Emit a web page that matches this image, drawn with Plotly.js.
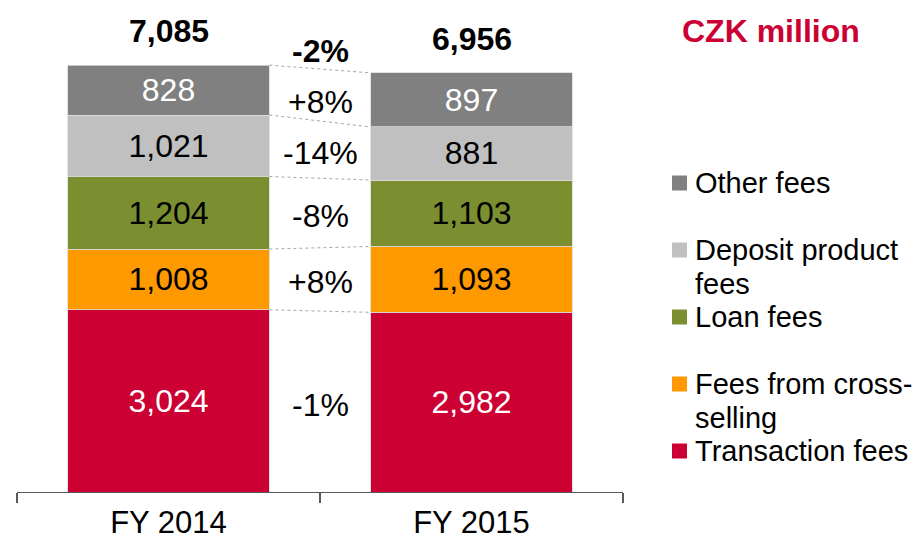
<!DOCTYPE html>
<html>
<head>
<meta charset="utf-8">
<script src="https://cdn.plot.ly/plotly-3.0.1.min.js"></script>
<style>html,body{margin:0;padding:0;background:#fff;}#chart{width:917px;height:544px;}</style>
</head>
<body>
<div id="chart"></div>
<script>
// ---- data ----
const categories = ["FY 2014", "FY 2015"];
const transactionFees = [3024, 2982];
const crossSellingFees = [1008, 1093];
const loanFees = [1204, 1103];
const depositFees = [1021, 881];
const otherFees = [828, 897];
const seriesNames = ["Transaction fees", "Fees from cross-selling", "Loan fees", "Deposit product fees", "Other fees"];
const legendLabels = ["Other fees", "Deposit product<br>fees", "Loan fees", "Fees from cross-<br>selling", "Transaction fees"];
const unitLabel = "CZK million";

// ---- styling ----
const colors = ["#CC0033", "#FF9900", "#7B8F30", "#C0C0C0", "#808080"];
const textColors = ["#ffffff", "#000000", "#000000", "#000000", "#ffffff"];
const FONT = "Liberation Sans, Arial, Helvetica, sans-serif";
const seriesValues = [transactionFees, crossSellingFees, loanFees, depositFees, otherFees];
const barWidth = 0.666;

// plot area geometry (pixels) for legend placement
const L = 17, R = 623, T = 10, B = 492;
const px = x => (x - L) / (R - L);
const py = y => (B - y) / (B - T);

const traces = seriesValues.map((vals, i) => ({
  type: "bar",
  name: seriesNames[i],
  x: categories,
  y: vals,
  marker: {color: colors[i], line: {color: "#d9d9d9", width: 0.8}},
  texttemplate: "%{y:,}",
  textposition: "inside",
  insidetextanchor: "middle",
  textangle: 0,
  constraintext: "none",
  textfont: {family: FONT, size: 32, color: textColors[i]},
  hoverinfo: "skip",
  showlegend: false
}));

// cumulative levels
const cum = categories.map((c, j) => {
  let s = 0; const arr = [];
  seriesValues.forEach(v => { arr.push([s, s + v[j]]); s += v[j]; });
  return arr;
});
const totals = categories.map((c, j) => seriesValues.reduce((a, v) => a + v[j], 0));

const shapes = [];
const annotations = [];

// connector dotted lines
seriesValues.forEach((v, i) => {
  shapes.push({type: "line", xref: "x", yref: "y",
    x0: 0 + barWidth / 2, x1: 1 - barWidth / 2,
    y0: cum[0][i][1], y1: cum[1][i][1],
    line: {color: "#a6a6a6", width: 1, dash: "dot"}});
});

// totals
categories.forEach((c, j) => {
  annotations.push({xref: "x", yref: "y", x: c, y: totals[j], yshift: 34,
    text: "<b>" + totals[j].toLocaleString("en-US") + "</b>", showarrow: false,
    font: {family: FONT, size: 32, color: "#000"}, yanchor: "middle"});
});

// percent changes per segment
const fmtPct = (a, b) => {
  const p = Math.round((b / a - 1) * 100);
  return (p > 0 ? "+" : "") + p + "%";
};
seriesValues.forEach((v, i) => {
  const mid = ((cum[0][i][0] + cum[0][i][1]) / 2 + (cum[1][i][0] + cum[1][i][1]) / 2) / 2;
  annotations.push({xref: "x", yref: "y", x: 0.5, y: mid, yshift: i === seriesValues.length - 1 ? -7 : -3,
    text: fmtPct(v[0], v[1]), showarrow: false,
    font: {family: FONT, size: 32, color: "#000"}, yanchor: "middle"});
});
// total percent change
annotations.push({xref: "x", yref: "y", x: 0.5, y: (totals[0] + totals[1]) / 2, yshift: 18,
  text: "<b>" + fmtPct(totals[0], totals[1]) + "</b>", showarrow: false,
  font: {family: FONT, size: 32, color: "#000"}, yanchor: "middle"});

// manual legend (top to bottom: Other ... Transaction)
legendLabels.forEach((lab, k) => {
  const ci = colors.length - 1 - k;
  const yc = 183 + 67 * k;
  shapes.push({type: "rect", xref: "paper", yref: "paper",
    x0: px(672), x1: px(687), y0: py(yc + 7.5), y1: py(yc - 7.5),
    fillcolor: colors[ci], line: {width: 0}});
  lab.split("<br>").forEach((line, li) => {
    annotations.push({xref: "paper", yref: "paper", x: px(693), y: py(yc + 34 * li),
      xanchor: "left", yanchor: "middle", text: line, showarrow: false,
      font: {family: FONT, size: 29, color: "#000"}});
  });
});

const layout = {
  width: 917, height: 544,
  margin: {l: L, r: 917 - R, t: T, b: 544 - B},
  paper_bgcolor: "#fff", plot_bgcolor: "#fff",
  barmode: "stack",
  bargap: 1 - barWidth,
  showlegend: false,
  title: {text: "<b>" + unitLabel + "</b>", x: 682 / 917, xanchor: "left",
    xref: "container", yref: "container", y: 1 - 31 / 544, yanchor: "middle",
    font: {family: FONT, size: 32, color: "#CC0033"}},
  xaxis: {type: "category", range: [-0.5, 1.5], showline: true, linecolor: "#595959", linewidth: 1.2,
    ticks: "outside", tickson: "boundaries", ticklen: 10, tickcolor: "#595959", tickwidth: 1.2,
    ticklabelstandoff: 3,
    showgrid: false, zeroline: false, fixedrange: true,
    tickfont: {family: FONT, size: 31, color: "#000"}},
  yaxis: {range: [0, 8000], visible: false, showgrid: false, zeroline: false, fixedrange: true},
  shapes: shapes,
  annotations: annotations,
  font: {family: FONT}
};

Plotly.newPlot("chart", traces, layout, {displayModeBar: false, staticPlot: true});
</script>
</body>
</html>
